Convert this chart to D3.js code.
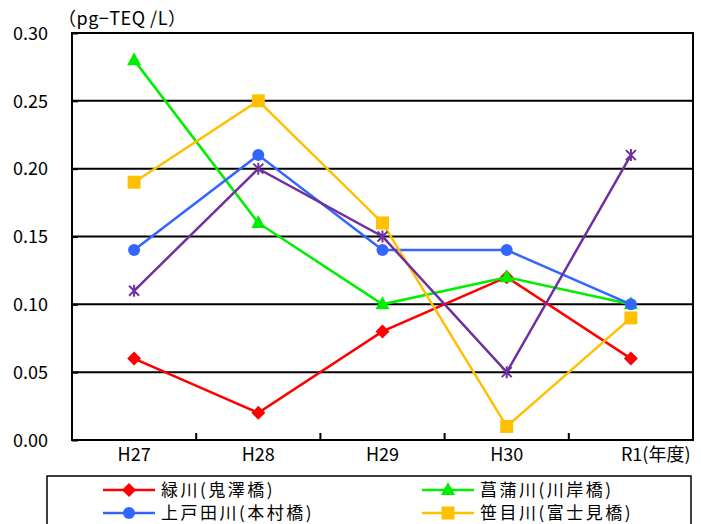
<!DOCTYPE html>
<html><head><meta charset="utf-8">
<script src="https://cdn.jsdelivr.net/npm/d3@7"></script>
<style>body{margin:0;background:#fff;}svg{display:block;font-family:"Noto Sans CJK JP","Noto Sans",sans-serif;}</style>
</head><body><div id="chart"></div>
<script>
const categories = ["H27","H28","H29","H30","R1"];
const yTicks = [0,0.05,0.10,0.15,0.20,0.25,0.30];
const seriesNames = ["緑川(鬼澤橋)","菖蒲川(川岸橋)","上戸田川(本村橋)","笹目川(富士見橋)","さくら川(さくら橋)"];
const midori = [0.06,0.02,0.08,0.12,0.06];
const shobu = [0.28,0.16,0.10,0.12,0.10];
const kamitoda = [0.14,0.21,0.14,0.14,0.10];
const sasame = [0.19,0.25,0.16,0.01,0.09];
const sakura = [0.11,0.20,0.15,0.05,0.21];
const colors = ["#FF0000","#00EE00","#3366FF","#FFC000","#7030A0"];
const markers = ["diamond","triangle","circle","square","asterisk"];
const values = [midori, shobu, kamitoda, sasame, sakura];

const W=701,H=524;
const m={left:72,right:693,top:33,bottom:440};
const FONT="'Noto Sans CJK JP',sans-serif";
const svg=d3.select("#chart").append("svg").attr("width",W).attr("height",H);
const x=d3.scaleBand().domain(categories).range([m.left,m.right]);
const y=d3.scaleLinear().domain([0,0.30]).range([m.bottom,m.top]);

// gridlines
svg.append("g").selectAll("line").data(yTicks.slice(1)).join("line")
 .attr("x1",m.left).attr("x2",m.right).attr("y1",d=>y(d)).attr("y2",d=>y(d))
 .attr("stroke","#000").attr("stroke-width",2);
// frame
svg.append("rect").attr("x",m.left).attr("y",m.top).attr("width",m.right-m.left).attr("height",m.bottom-m.top)
 .attr("fill","none").attr("stroke","#000").attr("stroke-width",2);

// y axis
const ya=svg.append("g").attr("transform",`translate(${m.left},0)`)
 .call(d3.axisLeft(y).tickValues(yTicks).tickFormat(d3.format(".2f")).tickSize(-6).tickPadding(24));
ya.select(".domain").remove();
ya.selectAll("line").attr("stroke","#000").attr("stroke-width",2);
ya.selectAll("text").attr("font-size",18).attr("fill","#000").attr("font-family",FONT).attr("dy","0.35em");

// x axis
const boundaries = categories.slice(1).map(c=>x(c));
svg.append("g").selectAll("line").data(boundaries).join("line")
 .attr("x1",d=>d).attr("x2",d=>d).attr("y1",m.bottom).attr("y2",m.bottom-7)
 .attr("stroke","#000").attr("stroke-width",2);
const xa=svg.append("g").attr("transform",`translate(0,${m.bottom})`)
 .call(d3.axisBottom(x).tickSize(0).tickPadding(8));
xa.select(".domain").remove();
xa.selectAll("text").attr("font-size",18).attr("fill","#000").attr("font-family",FONT)
 .attr("dx",(d,i)=>i===categories.length-1?-10:0)
 .attr("text-anchor",(d,i)=>i===categories.length-1?"start":"middle")
 .text((d,i)=>i===categories.length-1?d+"(年度)":d);

// unit label
svg.append("text").attr("x",58).attr("y",25).attr("font-size",18).attr("fill","#000").attr("letter-spacing",0.5).text("（pg−TEQ /L）");

// lines
const line=d3.line().x((d,i)=>x(categories[i])+x.bandwidth()/2).y(d=>y(d));
function drawMarker(g,type,color,cx,cy){
  if(type==="diamond") g.append("path").attr("d",`M${cx},${cy-7}L${cx+7},${cy}L${cx},${cy+7}L${cx-7},${cy}Z`).attr("fill",color);
  else if(type==="triangle") g.append("path").attr("d",`M${cx},${cy-8}L${cx+7},${cy+5}L${cx-7},${cy+5}Z`).attr("fill",color);
  else if(type==="circle") g.append("circle").attr("cx",cx).attr("cy",cy).attr("r",6).attr("fill",color);
  else if(type==="square") g.append("rect").attr("x",cx-6.5).attr("y",cy-6.5).attr("width",13).attr("height",13).attr("fill",color);
  else if(type==="asterisk"){
    g.append("path").attr("d",`M${cx-5},${cy-5}L${cx+5},${cy+5}M${cx-5},${cy+5}L${cx+5},${cy-5}M${cx},${cy-6}L${cx},${cy+6}`)
     .attr("stroke",color).attr("stroke-width",2).attr("fill","none");
  }
}
values.forEach((vals,si)=>{
  const g=svg.append("g");
  g.append("path").datum(vals).attr("d",line).attr("fill","none").attr("stroke",colors[si]).attr("stroke-width",2.5);
  vals.forEach((v,i)=>drawMarker(g,markers[si],colors[si],x(categories[i])+x.bandwidth()/2,y(v)));
});

// legend
const lg=svg.append("g");
lg.append("rect").attr("x",47).attr("y",476).attr("width",644).attr("height",80).attr("fill","#fff").attr("stroke","#000").attr("stroke-width",1.5);
const lpos=[[103,490],[422,490],[103,513],[422,513],[103,537]];
seriesNames.forEach((n,i)=>{
  const [lx,ly]=lpos[i];
  lg.append("line").attr("x1",lx).attr("x2",lx+52).attr("y1",ly).attr("y2",ly).attr("stroke",colors[i]).attr("stroke-width",2.5);
  drawMarker(lg,markers[i],colors[i],lx+26,ly);
  lg.append("text").attr("x",lx+58).attr("y",ly+6).attr("font-size",17).attr("letter-spacing",2.5).attr("fill","#000").attr("font-family",FONT).text(n);
});
</script></body></html>
